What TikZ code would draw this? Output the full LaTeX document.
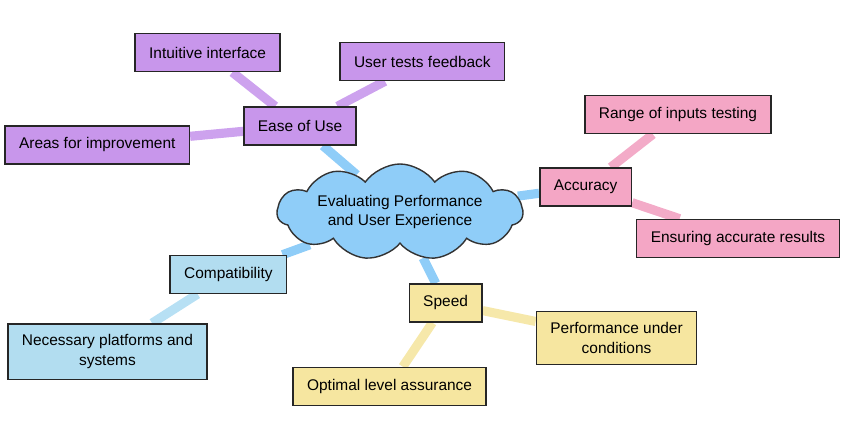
\documentclass[tikz,border=0pt]{standalone}
\usepackage{fontspec}
\newfontfamily\mapfont{Liberation Sans}
\usepackage{tikz}
\usetikzlibrary{positioning,shapes.symbols,backgrounds}

\definecolor{cloudblue}{HTML}{8FCDF8}
\definecolor{lilac}{HTML}{C896EB}
\definecolor{lilacline}{HTML}{CDA2EE}
\definecolor{rose}{HTML}{F4A6C5}
\definecolor{roseline}{HTML}{F3ABC8}
\definecolor{skyfill}{HTML}{B2DDF0}
\definecolor{skyline}{HTML}{B7E0F4}
\definecolor{sand}{HTML}{F6E6A0}
\definecolor{sandline}{HTML}{F6E8AA}

\begin{document}
\begin{tikzpicture}[
  font=\mapfont\fontsize{11}{14}\selectfont,
  hub/.style={cloud,cloud puffs=11,cloud puff arc=110,cloud ignores aspect,draw=black!80,line width=1pt,
    fill=cloudblue,minimum width=5.9cm,minimum height=2.4cm,align=center},
  card/.style={draw=black!85,line width=1pt,minimum height=0.95cm,inner xsep=0.35cm,inner ysep=0.27cm,align=center},
  link/.style={line width=6.5pt}
]
  \useasboundingbox (-10,-5.7) rectangle (11.25,5.3);

  % central topic and its four branches
  \node[hub] (topic) at (0,0) {Evaluating Performance\\and User Experience};
  \node[card,fill=lilac] (ease) at (-2.5,2.15) {Ease of Use};
  \node[card,fill=rose] (acc) at (4.64,0.625) {Accuracy};
  \node[card,fill=skyfill] (compat) at (-4.29,-1.56) {Compatibility};
  \node[card,fill=sand] (speed) at (1.14,-2.275) {Speed};

  \node[card,fill=lilac,above=0.85cm of ease,xshift=-2.31cm] (intuit) {Intuitive interface};
  \node[card,fill=lilac,above=0.625cm of ease,xshift=3.06cm] (feedback) {User tests feedback};
  \node[card,fill=lilac,left=1.325cm of ease,yshift=-0.475cm] (areas) {Areas for improvement};

  \node[card,fill=rose,above=0.825cm of acc,xshift=2.31cm] (range) {Range of inputs testing};
  \node[card,fill=rose,below=0.3cm of acc,xshift=3.81cm] (results) {Ensuring accurate results};

  \node[card,fill=skyfill,below=0.725cm of compat,xshift=-3.025cm] (platforms) {Necessary platforms and\\systems};

  \node[card,fill=sand,right=1.325cm of speed,yshift=-0.875cm] (conditions) {Performance under\\conditions};
  \node[card,fill=sand,below=1.1cm of speed,xshift=-1.4cm] (optimal) {Optimal level assurance};

  \begin{scope}[on background layer]
    \draw[link,cloudblue] (topic) -- (ease);
    \draw[link,cloudblue] (topic) -- (acc);
    \draw[link,cloudblue] (topic) -- (compat);
    \draw[link,cloudblue] (topic) -- (speed);

    \draw[link,lilacline] (ease) -- (intuit);
    \draw[link,lilacline] (ease) -- (feedback);
    \draw[link,lilacline] (ease) -- (areas);
    \draw[link,roseline] (acc) -- (range);
    \draw[link,roseline] (acc) -- (results);
    \draw[link,skyline] (compat) -- (platforms);
    \draw[link,sandline] (speed) -- (conditions);
    \draw[link,sandline] (speed) -- (optimal);
  \end{scope}
\end{tikzpicture}
\end{document}
